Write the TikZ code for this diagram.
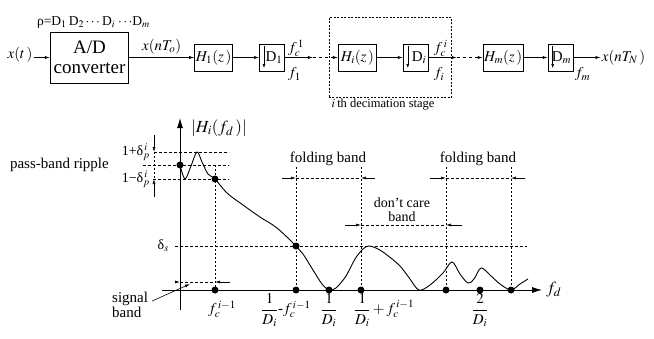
\documentclass[tikz,border=0pt]{standalone}
\usepackage{mathptmx}
\usepackage{fontspec}
\setmainfont{Liberation Serif}
\usetikzlibrary{arrows.meta, positioning, fit}

\begin{document}
\begin{tikzpicture}[
  x=1pt, y=-1pt,
  font=\fontsize{15}{15}\selectfont,
  adbox/.style={rectangle, draw, line width=0.9pt, minimum width=78pt, minimum height=51pt,
                align=center, font=\fontsize{19}{20}\selectfont},
  filt/.style={rectangle, draw, line width=0.9pt, minimum width=38pt, minimum height=27pt, inner sep=1pt},
  dec/.style={rectangle, draw, line width=0.9pt, minimum width=25pt, minimum height=27pt,
              inner xsep=1.5pt, text width=21pt, align=right,
              path picture={\draw[-{Latex[length=4pt,width=3pt]}, line width=0.6pt]
                ([xshift=4.5pt,yshift=-2pt]path picture bounding box.north west) --
                ([xshift=4.5pt,yshift=3pt]path picture bounding box.south west);}},
  sig/.style={-{Latex[length=5pt,width=3pt]}, line width=0.6pt},
  stagebox/.style={draw, dash pattern=on 2pt off 1.5pt, line width=0.9pt, inner sep=0pt},
  axis/.style={-{Latex[length=10pt,width=6pt]}, line width=0.8pt},
  guide/.style={dash pattern=on 3pt off 2pt, line width=0.6pt},
  vguide/.style={dash pattern=on 2pt off 2pt, line width=0.7pt},
  dim/.style={-{Latex[length=5pt,width=3pt]}, line width=0.6pt},
  dot/.style={circle, fill, inner sep=0pt, minimum size=7pt},
  lbl/.style={inner sep=1pt},
]
\useasboundingbox (0,0) rectangle (654,338);

% decimator chain
\node[adbox] (AD) at (89.5,57.5) {A/D\\converter};
\node[filt, right=65pt of AD] (H1) {$H_1(z\,)$};
\node[dec, right=26pt of H1] (D1) {D$_1$};
\node[filt, right=53pt of D1] (Hi) {$H_i(z\,)$};
\node[dec, right=26pt of Hi] (Di) {D$_i$};
\node[filt, right=54pt of Di] (Hm) {$H_m(z\,)$};
\node[dec, right=24pt of Hm] (Dm) {D$_m$};
\node[lbl] (xt) at (20,55) {$x(t\,)$};
\node[lbl, right=27pt of Dm] (xN) {$x(nT_N\,)$};
\coordinate[right=28pt of D1] (g1);
\coordinate[right=28pt of Di] (g2);

\node[above=0pt of AD, xshift=4pt, font=\fontsize{13.5}{14}\selectfont] (rho)
  {ρ=D$_1$\,D$_2\cdots$\,D$_i\,\cdots$D$_m$};

\draw[sig] (xt.east |- AD) -- (AD);
\draw[sig] (AD) -- (H1) node[midway, above] {$x(nT_o)$};
\draw[sig] (H1) -- (D1);
\draw[sig] (D1) -- (g1);
\draw[sig, dashed] (g1) -- (Hi);
\draw[sig] (Hi) -- (Di);
\draw[sig] (Di) -- (g2);
\draw[sig, dashed] (g2) -- (Hm);
\draw[sig] (Hm) -- (Dm);
\draw[sig] (Dm) -- (xN.west |- Dm);

\node[lbl, anchor=south west] (fc1) at ([xshift=2pt]D1.east) {$f_c^{\,1}$};
\node[lbl, anchor=north west] (f1) at ([xshift=2pt,yshift=-9pt]D1.east) {$f_1$};
\node[lbl, anchor=south west] (fci) at ([xshift=4pt]Di.east) {$f_c^{\,i}$};
\node[lbl, anchor=north west] (fi) at ([xshift=4pt,yshift=-9pt]Di.east) {$f_i$};
\node[lbl, anchor=north west] (fm) at ([xshift=0pt,yshift=-9pt]Dm.east) {$f_m$};

\node[stagebox, fit={([xshift=-9pt,yshift=26pt]Hi.north west) ([xshift=23pt,yshift=-26pt]Di.south east)}] (stage) {};
\node[lbl, anchor=north west, font=\fontsize{12.5}{13}\selectfont] at ([xshift=2pt]stage.south west)
  {$i$\,th decimation stage};

% magnitude response
\draw[axis] (162,290) -- (542,290);
\draw[axis] (180,310) -- (180,118);
\node[lbl, font=\fontsize{17}{17}\selectfont] at (219,128) {$\left|H_i(f_d\,)\right|$};
\node[lbl, anchor=west, font=\fontsize{17}{17}\selectfont] at (545,290) {$f_d$};

\draw[guide] (154,152) -- (229,152);
\draw[guide] (143,165) -- (229,165);
\draw[guide] (153,179) -- (229,179);
\draw[guide] (175,246) -- (527,246);
\draw[dim] (154,135) -- (154,152);
\draw[vguide] (154,152) -- (154,179);
\draw[dim] (154,197) -- (154,179);
\draw[vguide] (215,165) -- (215,290);
\foreach \x in {296,361,446,511}
  \draw[vguide] (\x,167) -- (\x,290);

\foreach \a/\b/\y/\l/\r in {180/215/282/5/15, 296/361/178/14/14, 361/446/225/16/16, 446/511/178/16/14} {
  \draw[dim] (\a-\l,\y) -- (\a,\y);
  \draw[guide] (\a,\y) -- (\b,\y);
  \draw[dim] (\b+\r,\y) -- (\b,\y);
}

\draw[line width=0.9pt] plot[smooth, tension=0.55] coordinates {
  (180,165) (185,179) (191,166) (197,152) (202,162) (208,174) (215,179)
  (227,193) (243,205) (260,217) (277,228) (296,246) (303,254) (313,270)
  (322,284) (329,290) (336,288) (346,276) (355,259) (363,249) (369,246)
  (378,249) (387,255) (400,266) (410,279) (419,290) (430,285) (443,273)
  (452,262) (460,274) (468,283) (474,279) (481,268) (490,275) (500,284)
  (511,290) (520,284) (528,279)};

\foreach \p in {(180,165), (215,179), (296,246)}
  \node[dot] at \p {};
\foreach \x in {215,296,329,361,446,480,511}
  \node[dot] at (\x,290) {};

\node[lbl, anchor=east] at (110,165) {pass-band ripple};
\node[lbl, anchor=east, font=\fontsize{14}{14}\selectfont] at (151,152) {1+δ$_p^{\,i}$};
\node[lbl, anchor=east, font=\fontsize{14}{14}\selectfont] at (151,179) {1−δ$_p^{\,i}$};
\node[lbl, anchor=east, font=\fontsize{14}{14}\selectfont] at (170,246) {δ$_s$};
\node[lbl] at (328,159) {folding band};
\node[lbl] at (478,159) {folding band};
\node[lbl, align=center, font=\fontsize{14}{14}\selectfont] at (402,210) {don't care\\band};

\node[lbl, anchor=north west, align=left] (sb) at (111,291) {signal\\band};
\coordinate (sbtip) at (190,284);
\draw[dim] ([xshift=3pt,yshift=4pt]sb.east) -- (sbtip);

\node[lbl] at (222,309) {$f_c^{\,i-1}$};
\node[lbl] at (286,310) {$\displaystyle\frac{1}{D_i}$-$f_c^{\,i-1}$};
\node[lbl] at (329,310) {$\displaystyle\frac{1}{D_i}$};
\node[lbl] at (384,310) {$\displaystyle\frac{1}{D_i}+f_c^{\,i-1}$};
\node[lbl] at (480,310) {$\displaystyle\frac{2}{D_i}$};
\end{tikzpicture}
\end{document}
